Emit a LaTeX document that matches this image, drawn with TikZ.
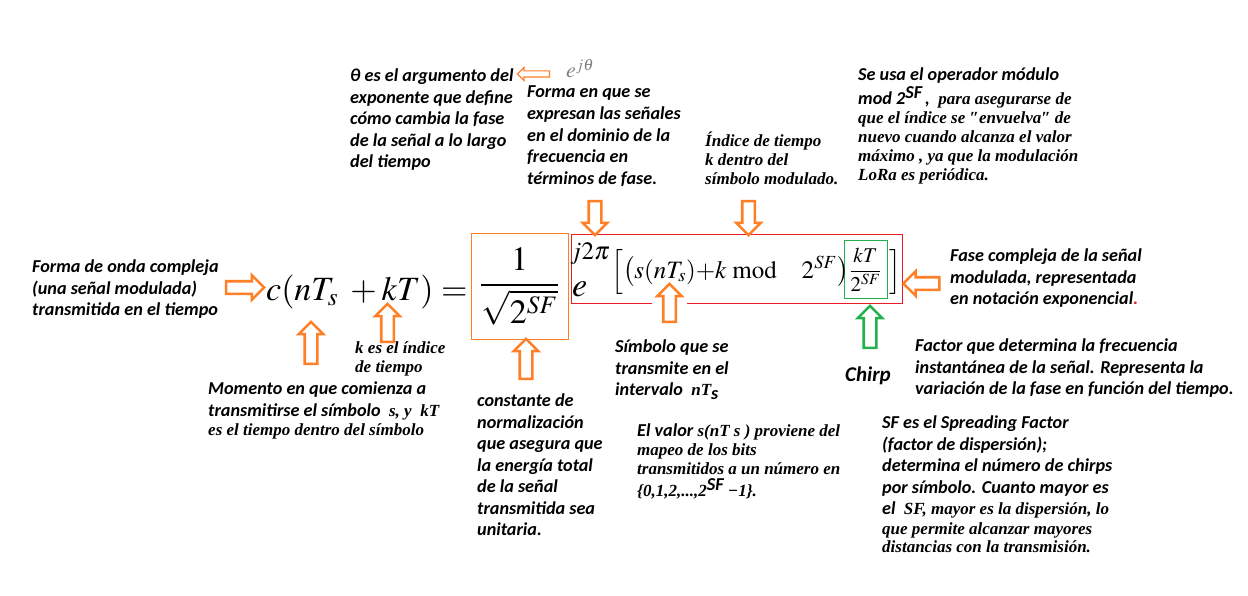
\documentclass[tikz,border=0pt]{standalone}
\usepackage{amsmath}
\usepackage{mathptmx}
\usepackage{fontspec}
\setmainfont{Liberation Serif}
\newfontfamily\carlito{Carlito}
\usetikzlibrary{shapes.arrows}
\definecolor{LROrange}{HTML}{FF7F27}
\definecolor{LRRed}{HTML}{ED1C24}
\definecolor{LRGreen}{HTML}{22B14C}
\definecolor{LRGray}{HTML}{808080}
\newcommand\notesans{\carlito\bfseries\itshape\fontsize{18.2}{21.5}\selectfont}
\newcommand\noteserif{\rmfamily\bfseries\itshape\fontsize{17}{19}\selectfont}
\newcommand\eqfont{\fontsize{34}{40}\selectfont}
\newcommand\expfont{\fontsize{25}{30}\selectfont}
\newcommand\sfup{\raisebox{6pt}{\notesans SF}}
\tikzset{
  lrNote/.style={anchor=north west, align=left, inner sep=0pt, font=\notesans},
  lrNoteSerif/.style={anchor=north west, align=left, inner sep=0pt, font=\noteserif},
  lrMath/.style={anchor=base west, inner sep=0pt},
  lrBox/.style={draw=#1, line width=1pt, inner sep=0pt},
  lrBox/.default=LROrange,
  lrArrow/.style={
    single arrow, draw=#1, fill=white, line width=2.6pt, inner sep=5pt,
    single arrow head extend=6pt, minimum height=38pt, line join=miter
  },
  lrArrow/.default=LROrange
}
\begin{document}
\begin{tikzpicture}[x=1pt, y=-1pt]
  \fill[white] (0,0) rectangle (1248,596);
  \useasboundingbox (0,0) rectangle (1248,596);

  \node[lrBox, minimum width=97pt, minimum height=105pt, font=\eqfont] (norm) at (519.5,286.5) {$\dfrac{1}{\sqrt{2^{SF}}}$};
  \node[lrBox=LRRed, minimum width=331pt, minimum height=68pt] (phase) at (736.5,269) {};
  \node[lrBox=LRGreen, minimum width=43pt, minimum height=57pt, font=\fontsize{21}{25}\selectfont] (chirpfrac) at (865.5,269.5) {$\dfrac{kT}{2^{SF}}$};

  \node[lrMath, font=\eqfont] (lhs) at (266,300) {$c(nT_s\;+kT)=$};
  \node[lrMath, font=\eqfont] (eul) at (572,297) {$e$};
  \node[lrMath, font=\expfont] (expo) at (570,260) {$j2\pi$};
  \node[lrMath, font=\expfont] (inner) at (611,278) {$\Bigl[\bigl(s(nT_s){+}k\;\mathrm{mod}\quad 2^{SF}\bigr)$};
  \node[lrMath, font=\expfont] (rbr) at (889,278) {$\Bigr]$};
  \node[lrMath, text=LRGray, font=\fontsize{22}{26}\selectfont] (ejt) at (566,78) {$e^{j\theta}$};

  \fill[white] (652,300) rectangle (687,306);

  \node[lrArrow] (aWave) at (242,287.5) {};
  \node[lrArrow, rotate=90, minimum height=42pt] (aStart) at (311,346) {};
  \node[lrArrow, rotate=90] (aK) at (387.5,326) {};
  \node[lrArrow, rotate=90, minimum height=40pt] (aNorm) at (526,362) {};
  \node[lrArrow, rotate=-90, minimum height=34pt] (aExp) at (595,215) {};
  \node[lrArrow, rotate=-90, minimum height=34pt] (aIdx) at (748.5,215) {};
  \node[lrArrow, rotate=90] (aSym) at (669.5,306) {};
  \node[lrArrow=LRGreen, rotate=90, minimum height=42pt] (aChirp) at (870,330) {};
  \node[lrArrow, rotate=180, minimum height=36pt] (aPhase) at (924.5,283.5) {};
  \node[lrArrow, rotate=180, minimum height=32pt, inner sep=2.5pt, single arrow head extend=3.5pt, line width=1.1pt] (aTheta) at (535,74) {};

  \node[lrNote] (thetaNote) at (350,69) {θ es el argumento del\\exponente que define\\cómo cambia la fase\\de la señal a lo largo\\del tiempo};
  \node[lrNote] (domNote) at (527,86) {Forma en que se\\expresan las señales\\en el dominio de la\\frecuencia en\\términos de fase.};
  \node[lrNoteSerif] (idxNote) at (705,132) {Índice de tiempo\\k dentro del\\símbolo modulado.};
  \node[lrNoteSerif] (modNote) at (858,68) {{\notesans Se usa el operador módulo}\\[2pt]{\notesans mod 2\sfup\,,}\ \ para asegurarse de\\que el índice se ″envuelva″ de\\nuevo cuando alcanza el valor\\máximo , ya que la modulación\\LoRa es periódica.};
  \node[lrNote] (waveNote) at (32,260) {Forma de onda compleja\\(una señal modulada)\\transmitida en el tiempo};
  \node[lrNoteSerif] (kNote) at (355,341) {k es el índice\\de tiempo};
  \node[lrNote] (startNote) at (208,382) {Momento en que comienza a\\transmitirse el símbolo {\noteserif\ s, y\ \ kT}\\[-2pt]{\noteserif es el tiempo dentro del símbolo}};
  \node[lrNote] (normNote) at (477,394) {constante de\\normalización\\que asegura que\\la energía total\\de la señal\\transmitida sea\\unitaria.};
  \node[lrNote] (symNote) at (615,340) {Símbolo que se\\transmite en el\\intervalo {\noteserif\ nT}\raisebox{-4pt}{s}};
  \node[lrNoteSerif] (valNote) at (637,424) {{\notesans El valor}\ s(nT s ) proviene del\\mapeo de los bits\\transmitidos a un número en\\[3pt]\{0,1,2,...,2\sfup\ −1\}.};
  \node[lrNote] (chirpNote) at (845,367) {\fontsize{21}{25}\selectfont Chirp};
  \node[lrNote] (phaseNote) at (950,249) {Fase compleja de la señal\\modulada, representada\\en notación exponencial\textcolor{LRRed}{.}};
  \node[lrNote] (factorNote) at (915,339) {Factor que determina la frecuencia\\instantánea de la señal. Representa la\\variación de la fase en función del tiempo.};
  \node[lrNote] (sfNote) at (882,416) {SF es el Spreading Factor\\(factor de dispersión);\\determina el número de chirps\\por símbolo. Cuanto mayor es\\el {\noteserif\ SF, mayor es la dispersión, lo}\\[-2pt]{\noteserif que permite alcanzar mayores}\\[-3pt]{\noteserif distancias con la transmisión.}};
\end{tikzpicture}
\end{document}
